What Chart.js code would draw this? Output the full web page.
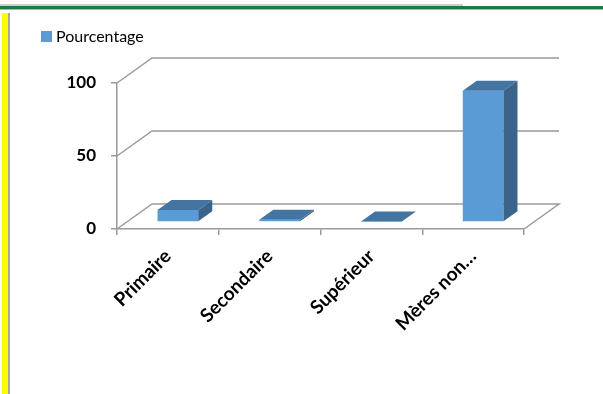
<!DOCTYPE html>
<html>
<head>
<meta charset="utf-8">
<script src="https://cdn.jsdelivr.net/npm/chart.js@4.4.0/dist/chart.umd.min.js"></script>
<style>
  body { margin: 0; background: #fff; }
  #wrap { position: relative; width: 603px; height: 394px; overflow: hidden; }
  #topGrey { position: absolute; left: 0; top: 4px; width: 463px; height: 2px; background: #c9d3cc; }
  #topGreen { position: absolute; left: 0; top: 6px; width: 603px; height: 3px; background: #1d7a46; }
  #topShadow { position: absolute; left: 0; top: 9px; width: 603px; height: 1px; background: #a9b5ad; }
  #yellow { position: absolute; left: 2px; top: 13px; width: 6px; height: 381px; background: #ffff00; }
  #yellowEdge { position: absolute; left: 8px; top: 13px; width: 2px; height: 381px; background: #a6a6a6; }
  canvas { position: absolute; left: 0; top: 0; }
</style>
</head>
<body>
<div id="wrap">
  <div id="topGrey"></div>
  <div id="topGreen"></div>
  <div id="topShadow"></div>
  <div id="yellow"></div>
  <div id="yellowEdge"></div>
  <canvas id="chart" width="603" height="394"></canvas>
</div>
<script>
// données
const categories = ['Primaire', 'Secondaire', 'Supérieur', 'Mères non…'];
const pourcentage = [8.3, 1.5, 0.3, 89.9];
const yTicks = [0, 50, 100];
const seriesName = 'Pourcentage';

// perspective (pixels)
const WALL_DX = 35, WALL_DY = -25;   // fond du graphique
const BAR_OX = 10, BAR_OY = -7;      // position de la face avant des barres
const BAR_DX = 14, BAR_DY = -10;     // profondeur des barres

const frontColor = '#5b9bd5';
const topColor = '#4474a2';
const sideColor = '#3a6489';
const lineColor = '#9a9a9a';

// légende dessinée à la main (position comme dans Excel)
const legendBox = {
    id: 'legendBox',
    afterDraw(chart) {
        const ctx = chart.ctx;
        ctx.save();
        ctx.fillStyle = frontColor;
        ctx.fillRect(41, 31, 11, 11);
        ctx.fillStyle = '#000';
        ctx.font = '16px Lato';
        ctx.textBaseline = 'middle';
        ctx.fillText(chart.data.datasets[0].label, 56, 37);
        ctx.restore();
    }
};

const bars3d = {
    id: 'bars3d',
    beforeDatasetsDraw(chart) {
        const ctx = chart.ctx;
        const ys = chart.scales.y;
        const L = chart.chartArea.left, R = chart.chartArea.right;

        // murs / lignes de fond
        ctx.save();
        ctx.strokeStyle = lineColor;
        ctx.lineWidth = 1.5;
        ys.ticks.forEach(function (t) {
            const y = ys.getPixelForValue(t.value);
            ctx.beginPath();
            ctx.moveTo(L, y);
            ctx.lineTo(L + WALL_DX, y + WALL_DY);
            ctx.lineTo(R + WALL_DX, y + WALL_DY);
            if (t.value === 0) ctx.lineTo(R, y);
            ctx.stroke();
        });
        ctx.restore();

        // barres en 3D
        const meta = chart.getDatasetMeta(0);
        meta.data.forEach(function (bar) {
            const x0 = bar.x - bar.width / 2 + BAR_OX;
            const x1 = bar.x + bar.width / 2 + BAR_OX;
            const yt = bar.y + BAR_OY;
            const yb = bar.base + BAR_OY;
            ctx.save();
            ctx.fillStyle = frontColor;
            ctx.fillRect(x0, yt, x1 - x0, yb - yt);
            ctx.fillStyle = sideColor;
            ctx.beginPath();
            ctx.moveTo(x1, yt);
            ctx.lineTo(x1 + BAR_DX, yt + BAR_DY);
            ctx.lineTo(x1 + BAR_DX, yb + BAR_DY);
            ctx.lineTo(x1, yb);
            ctx.closePath();
            ctx.fill();
            ctx.fillStyle = topColor;
            ctx.beginPath();
            ctx.moveTo(x0, yt);
            ctx.lineTo(x0 + BAR_DX, yt + BAR_DY);
            ctx.lineTo(x1 + BAR_DX, yt + BAR_DY);
            ctx.lineTo(x1, yt);
            ctx.closePath();
            ctx.fill();
            ctx.restore();
        });
        return false;
    }
};

const ctx = document.getElementById('chart').getContext('2d');

const chart = new Chart(ctx, {
    type: 'bar',
    data: {
        labels: categories,
        datasets: [{
            label: seriesName,
            data: pourcentage,
            backgroundColor: frontColor,
            borderWidth: 0,
            categoryPercentage: 1,
            barPercentage: 0.4
        }]
    },
    options: {
        responsive: false,
        animation: false,
        layout: { padding: { left: 20, top: 83, right: 79, bottom: 0 } },
        plugins: {
            legend: { display: false },
            tooltip: { enabled: false }
        },
        scales: {
            x: {
                afterFit(scale) { scale.height = 165; },
                grid: {
                    offset: true,
                    drawOnChartArea: false,
                    tickLength: 6,
                    color: lineColor,
                    lineWidth: 1.5
                },
                border: { display: true, color: lineColor, width: 1.5 },
                ticks: {
                    minRotation: 45,
                    maxRotation: 45,
                    autoSkip: false,
                    padding: 10,
                    color: '#000',
                    font: { family: 'Lato', size: 19, weight: 'bold' }
                }
            },
            y: {
                min: 0,
                max: 100,
                afterFit(scale) { scale.width = 97; },
                afterBuildTicks(scale) {
                    scale.ticks = yTicks.map(function (v) { return { value: v }; });
                },
                grid: {
                    drawOnChartArea: false,
                    tickLength: 6,
                    color: lineColor,
                    lineWidth: 1.5
                },
                border: { display: true, color: lineColor, width: 1.5 },
                ticks: {
                    padding: 15,
                    color: '#000',
                    font: { family: 'Lato', size: 17, weight: 'bold' }
                }
            }
        }
    },
    plugins: [bars3d, legendBox]
});
</script>
</body>
</html>
